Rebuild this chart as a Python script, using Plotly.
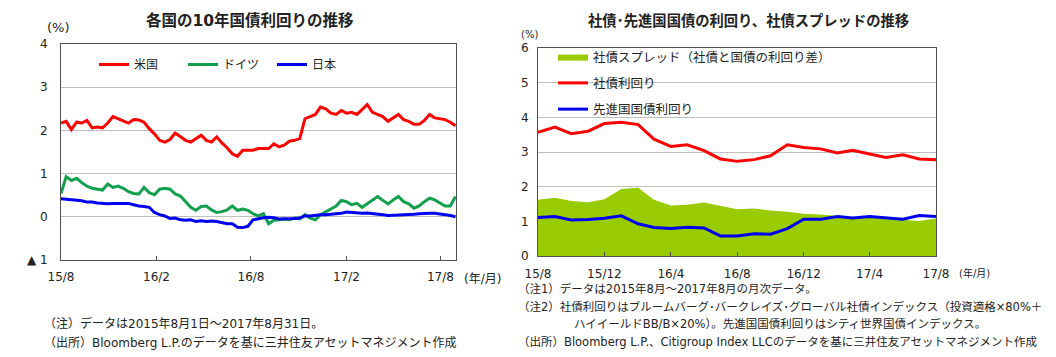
import plotly.graph_objects as go
import pandas as pd

# ---------------- Left chart data (10-day samples, 2015-08-01 .. 2017-08-30) ----------------
us_yield = [2.17, 2.21, 2.02, 2.19, 2.17, 2.23, 2.06, 2.08, 2.06, 2.17,
            2.32, 2.27, 2.21, 2.17, 2.25, 2.24, 2.19, 2.04, 1.92, 1.77,
            1.73, 1.79, 1.94, 1.86, 1.77, 1.73, 1.81, 1.89, 1.77, 1.73,
            1.85, 1.71, 1.60, 1.46, 1.40, 1.54, 1.54, 1.54, 1.58, 1.58,
            1.58, 1.69, 1.62, 1.66, 1.75, 1.77, 1.81, 2.27, 2.32, 2.37,
            2.54, 2.50, 2.40, 2.37, 2.46, 2.40, 2.42, 2.37, 2.48, 2.60,
            2.42, 2.37, 2.32, 2.21, 2.29, 2.37, 2.25, 2.21, 2.14, 2.14,
            2.23, 2.37, 2.29, 2.27, 2.25, 2.19, 2.11]
de_yield = [0.54, 0.93, 0.84, 0.89, 0.79, 0.71, 0.66, 0.64, 0.62, 0.76,
            0.68, 0.71, 0.66, 0.58, 0.54, 0.53, 0.68, 0.56, 0.51, 0.64,
            0.66, 0.64, 0.53, 0.48, 0.35, 0.22, 0.15, 0.24, 0.25, 0.16,
            0.10, 0.12, 0.16, 0.25, 0.15, 0.18, 0.15, 0.07, 0.02, 0.07,
            -0.16, -0.08, -0.07, -0.05, -0.07, -0.03, -0.05, 0.05, -0.03, -0.07,
            0.05, 0.12, 0.20, 0.25, 0.38, 0.35, 0.28, 0.31, 0.22, 0.31,
            0.39, 0.47, 0.38, 0.30, 0.39, 0.47, 0.35, 0.30, 0.20, 0.25,
            0.35, 0.43, 0.39, 0.31, 0.25, 0.25, 0.47]
jp_yield = [0.42, 0.41, 0.39, 0.38, 0.37, 0.34, 0.34, 0.32, 0.31, 0.30,
            0.31, 0.31, 0.31, 0.31, 0.28, 0.25, 0.24, 0.22, 0.10, 0.05,
            0.02, -0.04, -0.03, -0.07, -0.08, -0.07, -0.11, -0.09, -0.11, -0.10,
            -0.11, -0.13, -0.16, -0.16, -0.24, -0.25, -0.22, -0.07, -0.04, -0.02,
            -0.01, -0.02, -0.05, -0.05, -0.04, -0.04, -0.03, 0.02, 0.02, 0.04,
            0.05, 0.05, 0.06, 0.07, 0.08, 0.11, 0.10, 0.09, 0.08, 0.09,
            0.08, 0.07, 0.05, 0.03, 0.03, 0.04, 0.05, 0.05, 0.06, 0.07,
            0.08, 0.08, 0.08, 0.07, 0.05, 0.03, 0.00]
left_dates = pd.date_range("2015-08-01", periods=len(us_yield), freq="10D")
left_tickvals = ["2015-08-01", "2016-02-01", "2016-08-01", "2017-02-01", "2017-08-01"]
left_ticktext = ["15/8", "16/2", "16/8", "17/2", "17/8"]
left_yticks = [-1, 0, 1, 2, 3, 4]
left_yticktext = ["▲ 1", "0", "1", "2", "3", "4"]

# ---------------- Right chart data (monthly, 2015/8 .. 2017/8) ----------------
months = pd.date_range("2015-08-01", periods=25, freq="MS")
corp_yield = [3.57, 3.72, 3.53, 3.60, 3.82, 3.86, 3.79, 3.37, 3.16, 3.21,
              3.04, 2.80, 2.73, 2.78, 2.89, 3.21, 3.13, 3.09, 2.97, 3.05,
              2.94, 2.84, 2.92, 2.80, 2.78]
govt_yield = [1.11, 1.14, 1.04, 1.05, 1.09, 1.16, 0.93, 0.82, 0.79, 0.83,
              0.81, 0.58, 0.58, 0.64, 0.63, 0.79, 1.06, 1.06, 1.14, 1.10,
              1.14, 1.09, 1.06, 1.17, 1.14]
corp_spread = [1.62, 1.68, 1.59, 1.55, 1.64, 1.93, 1.97, 1.62, 1.46, 1.48,
               1.54, 1.45, 1.35, 1.37, 1.31, 1.28, 1.22, 1.20, 1.15, 1.12,
               1.12, 1.08, 1.06, 1.01, 1.08]
right_tickvals = ["2015-08-01", "2015-12-01", "2016-04-01", "2016-08-01",
                  "2016-12-01", "2017-04-01", "2017-08-01"]
right_ticktext = ["15/8", "15/12", "16/4", "16/8", "16/12", "17/4", "17/8"]

# The page body has an 8px margin, so the figure is drawn 8px smaller and all
# layout positions below are given in window pixels and shifted by that offset.
OFF = 8
W, H = 1056 - OFF, 357 - OFF
FONT = "Verdana, DejaVu Sans, Noto Sans CJK JP, sans-serif"
JFONT = "Noto Sans CJK JP, sans-serif"
TXT = "#222222"
AXC = "#505050"
GRID = "#BFBFBF"

def px(x):
    return (x - OFF) / W

def py(y):
    return 1 - (y - OFF) / H

fig = go.Figure()

# left traces
fig.add_trace(go.Scatter(x=left_dates, y=us_yield, name="米国", mode="lines",
                         line=dict(color="#FF0000", width=3), xaxis="x", yaxis="y",
                         legend="legend"))
fig.add_trace(go.Scatter(x=left_dates, y=de_yield, name="ドイツ", mode="lines",
                         line=dict(color="#12A04F", width=3), xaxis="x", yaxis="y",
                         legend="legend"))
fig.add_trace(go.Scatter(x=left_dates, y=jp_yield, name="日本", mode="lines",
                         line=dict(color="#0000F0", width=3), xaxis="x", yaxis="y",
                         legend="legend"))

# right traces
fig.add_trace(go.Scatter(x=months, y=corp_spread, name="社債スプレッド（社債と国債の利回り差）",
                         mode="lines", fill="tozeroy", fillcolor="#99CC00",
                         line=dict(color="#99CC00", width=0), xaxis="x2", yaxis="y2",
                         legend="legend2", legendgroup="a"))
fig.add_trace(go.Scatter(x=months, y=corp_yield, name="社債利回り", mode="lines",
                         line=dict(color="#FF0000", width=3), xaxis="x2", yaxis="y2",
                         legend="legend2", legendgroup="b"))
fig.add_trace(go.Scatter(x=months, y=govt_yield, name="先進国国債利回り", mode="lines",
                         line=dict(color="#0000F0", width=3), xaxis="x2", yaxis="y2",
                         legend="legend2", legendgroup="c"))

axis_common = dict(showline=True, linecolor=AXC, linewidth=1, mirror=True, automargin=False,
                   tickfont=dict(family=FONT, size=12, color=TXT))

fig.update_layout(
    width=W, height=H,
    margin=dict(l=0, r=0, t=0, b=0, autoexpand=False),
    paper_bgcolor="white", plot_bgcolor="white",
    font=dict(family=JFONT, size=12, color=TXT),
    xaxis=dict(domain=[px(61), px(456)], type="date",
               range=["2015-08-01", "2017-08-31"],
               tickvals=left_tickvals, ticktext=left_ticktext,
               ticks="inside", ticklen=4, tickcolor=AXC, showgrid=False,
               ticklabelstandoff=6, anchor="y", **axis_common),
    yaxis=dict(domain=[py(260), py(44)], range=[-1, 4],
               tickvals=left_yticks, ticktext=left_yticktext,
               showgrid=True, gridcolor=GRID, gridwidth=1, zeroline=False,
               ticks="", ticklabelstandoff=10, anchor="x", **axis_common),
    xaxis2=dict(domain=[px(538), px(936)], type="date",
                range=["2015-08-01", "2017-08-01"],
                tickvals=right_tickvals, ticktext=right_ticktext,
                ticks="inside", ticklen=4, tickcolor=AXC, showgrid=False,
                ticklabelstandoff=7, anchor="y2", **axis_common),
    yaxis2=dict(domain=[py(256), py(48)], range=[0, 6], dtick=1,
                showgrid=True, gridcolor=GRID, gridwidth=1, zeroline=False,
                ticks="", ticklabelstandoff=6, anchor="x2", **axis_common),
    legend=dict(orientation="h", x=px(94), y=py(50), xanchor="left", yanchor="top",
                bgcolor="rgba(0,0,0,0)", font=dict(family=JFONT, size=12, color=TXT),
                entrywidth=44, itemwidth=30),
    legend2=dict(orientation="v", x=px(553), y=py(42), xanchor="left", yanchor="top",
                 bgcolor="rgba(0,0,0,0)", font=dict(family=JFONT, size=12.5, color=TXT),
                 tracegroupgap=7, itemwidth=30),
    showlegend=True,
)

# white panel behind the right legend (hides the grid lines there, traces stay on top)
fig.add_shape(type="rect", xref="paper", yref="paper",
              x0=px(555), x1=px(802), y0=py(119), y1=py(50),
              fillcolor="white", line=dict(width=0), layer="between")

annos = [
    dict(text="<b>各国の10年国債利回りの推移</b>", x=px(250), y=py(20), size=15.5, xanchor="center"),
    dict(text="<b>社債･先進国国債の利回り、社債スプレッドの推移</b>", x=px(748), y=py(20), size=14.3, xanchor="center"),
    dict(text="(%)", x=px(58), y=py(27), size=13, xanchor="center"),
    dict(text="(%)", x=px(519), y=py(35), size=10, xanchor="left"),
    dict(text="(年/月)", x=px(462), y=py(279), size=12, xanchor="left"),
    dict(text="(年/月)", x=px(957), y=py(273), size=10, xanchor="left"),
    dict(text="（注）データは2015年8月1日～2017年8月31日。", x=px(42), y=py(323), size=12, xanchor="left"),
    dict(text="（出所）Bloomberg L.P.のデータを基に三井住友アセットマネジメント作成", x=px(42), y=py(342), size=12, xanchor="left"),
    dict(text="（注1）データは2015年8月～2017年8月の月次データ。", x=px(516), y=py(289), size=11.5, xanchor="left"),
    dict(text="（注2）社債利回りはブルームバーグ･バークレイズ･グローバル社債インデックス（投資適格×80%＋", x=px(516), y=py(307), size=11.5, xanchor="left"),
    dict(text="ハイイールドBB/B×20%）。先進国国債利回りはシティ世界国債インデックス。", x=px(572), y=py(324), size=11.5, xanchor="left"),
    dict(text="（出所）Bloomberg L.P.、Citigroup Index LLCのデータを基に三井住友アセットマネジメント作成", x=px(516), y=py(342), size=11.5, xanchor="left"),
]
for a in annos:
    fig.add_annotation(text=a["text"], x=a["x"], y=a["y"], xref="paper", yref="paper",
                       xanchor=a["xanchor"], yanchor="middle", showarrow=False,
                       font=dict(family=FONT, size=a["size"], color=TXT))

fig.write_html("out.html")
